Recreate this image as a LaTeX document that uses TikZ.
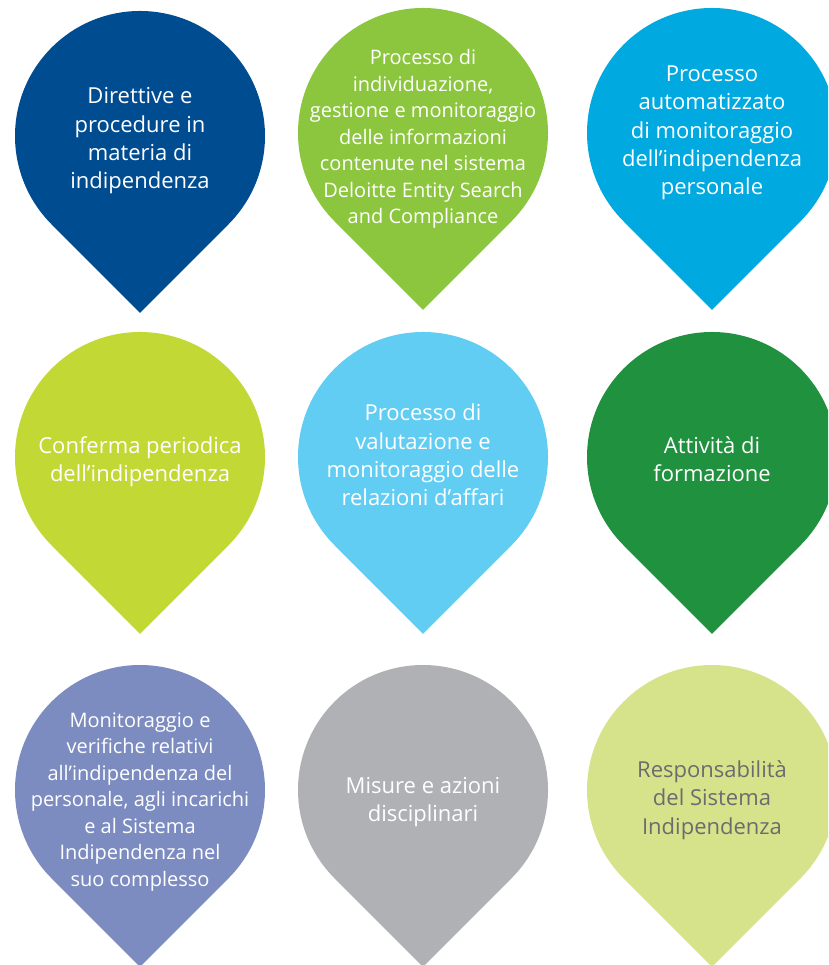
\documentclass[tikz,border=0pt]{standalone}
\usepackage{fontspec}
\setmainfont{Open Sans}
\definecolor{cA}{RGB}{0,76,145}
\definecolor{cB}{RGB}{140,198,63}
\definecolor{cC}{RGB}{0,169,224}
\definecolor{cD}{RGB}{194,216,52}
\definecolor{cE}{RGB}{98,205,243}
\definecolor{cF}{RGB}{32,145,63}
\definecolor{cG}{RGB}{124,140,192}
\definecolor{cH}{RGB}{176,177,180}
\definecolor{cI}{RGB}{215,227,138}
\definecolor{tI}{RGB}{107,108,110}
\newcommand{\mypin}[3]{%
  \fill[#3,shift={(#1,#2)}] (-45:125) arc[start angle=-45,end angle=225,radius=125] -- (0,-176.8) -- cycle;}
\begin{document}
\begin{tikzpicture}[x=1pt,y=1pt,
  pinlabel/.style={text=white,align=center,inner sep=0pt,font=\fontsize{22}{28.3}\selectfont},
  pinsmall/.style={pinlabel,font=\fontsize{20}{26.5}\selectfont}]
\useasboundingbox (0,0) rectangle (828,965);
\clip (0,0) rectangle (828,965);
\mypin{140}{829}{cA}
\mypin{423}{832}{cB}
\mypin{712}{832}{cC}
\mypin{140}{508}{cD}
\mypin{423}{508}{cE}
\mypin{712}{508}{cF}
\mypin{140}{175}{cG}
\mypin{423}{175}{cH}
\mypin{712}{175}{cI}
\node[pinlabel] (t1) at (140,824) {Direttive e\\procedure in\\materia di\\indipendenza};
\node[pinsmall] (t2) at (423,826) {Processo di\\individuazione,\\gestione e monitoraggio\\delle informazioni\\contenute nel sistema\\Deloitte Entity Search\\and Compliance};
\node[pinlabel] (t3) at (712,832) {Processo\\automatizzato\\di monitoraggio\\dell’indipendenza\\personale};
\node[pinlabel] (t4) at (140,503) {Conferma periodica\\dell’indipendenza};
\node[pinlabel] (t5) at (423,510) {Processo di\\valutazione e\\monitoraggio delle\\relazioni d’affari};
\node[pinlabel] (t6) at (712,506) {Attività di\\formazione};
\node[pinsmall] (t7) at (140,163) {Monitoraggio e\\verifiche relativi\\all’indipendenza del\\personale, agli incarichi\\e al Sistema\\Indipendenza nel\\suo complesso};
\node[pinlabel] (t8) at (423,163) {Misure e azioni\\disciplinari};
\node[pinlabel,text=tI] (t9) at (712,165) {Responsabilità\\del Sistema\\Indipendenza};
\end{tikzpicture}
\end{document}
